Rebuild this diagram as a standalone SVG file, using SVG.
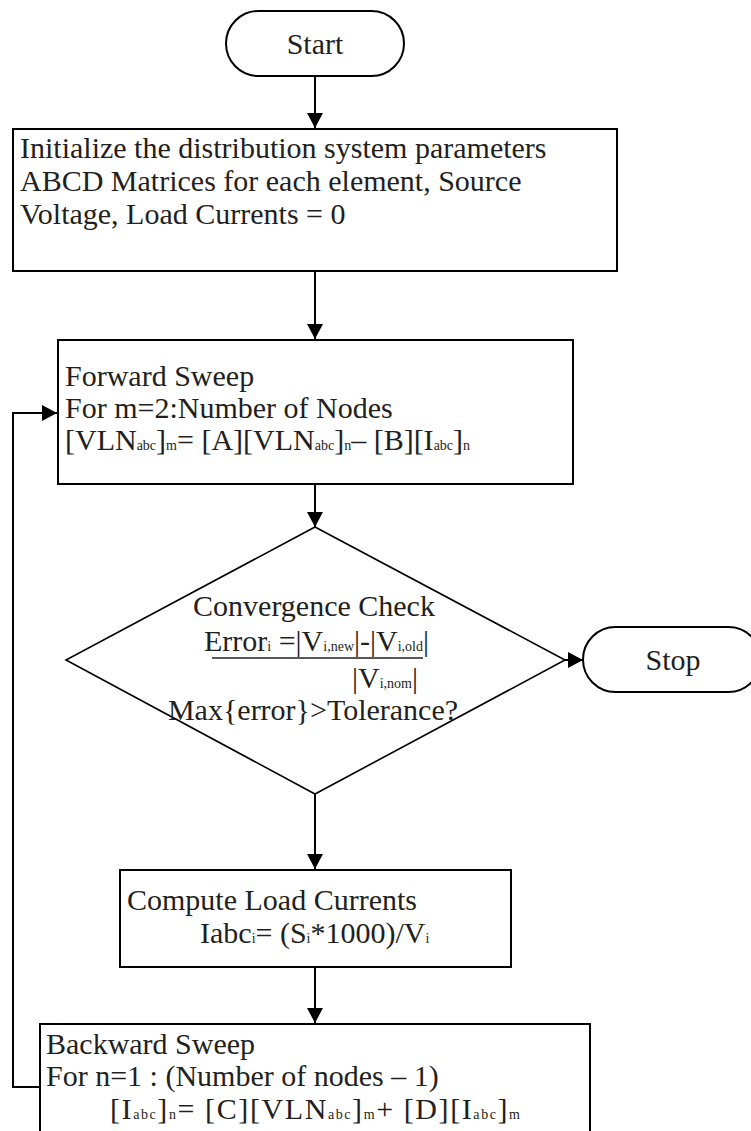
<svg xmlns="http://www.w3.org/2000/svg" width="751" height="1131" viewBox="0 0 751 1131">
<style>
.shape{fill:#fff;stroke:#000;stroke-width:2}
.dia{fill:#fff;stroke:#000;stroke-width:1.6}
.t{font-family:"Liberation Serif","Times New Roman",serif;font-size:30px;fill:#231f20}
.s{font-size:14px}
.c{text-anchor:middle}
.conn{fill:none;stroke:#000;stroke-width:2}
</style>
<defs>
<marker id="ah" markerUnits="userSpaceOnUse" markerWidth="16" markerHeight="16" refX="15" refY="8" orient="auto">
<path d="M0,0 L15,8 L0,16 z" fill="#000"/>
</marker>
</defs>
<rect width="751" height="1131" fill="#fff"/>
<g id="connectors">
<line class="conn" x1="315" y1="76" x2="315" y2="128" marker-end="url(#ah)"/>
<line class="conn" x1="315" y1="271" x2="315" y2="339" marker-end="url(#ah)"/>
<line class="conn" x1="315" y1="484" x2="315" y2="527" marker-end="url(#ah)"/>
<line class="conn" x1="565" y1="660" x2="583" y2="660" marker-end="url(#ah)"/>
<line class="conn" x1="315" y1="794" x2="315" y2="869" marker-end="url(#ah)"/>
<line class="conn" x1="315" y1="967" x2="315" y2="1023" marker-end="url(#ah)"/>
<path class="conn" d="M40,1087 H13 V413 H57" marker-end="url(#ah)"/>
</g>
<g id="start">
<rect class="shape" x="226" y="11" width="178" height="65" rx="32.5"/>
<text class="t c" x="315" y="54">Start</text>
</g>
<g id="init">
<rect class="shape" x="13" y="129" width="604" height="142"/>
<text class="t" x="20" y="158">Initialize the distribution system parameters</text>
<text class="t" x="20" y="191">ABCD Matrices for each element, Source</text>
<text class="t" x="20" y="224">Voltage, Load Currents = 0</text>
</g>
<g id="forward">
<rect class="shape" x="58" y="340" width="515" height="144"/>
<text class="t" x="65" y="386">Forward Sweep</text>
<text class="t" x="65" y="418">For m=2:Number of Nodes</text>
<text class="t" x="65" y="450">[VLN<tspan class="s">abc</tspan>]<tspan class="s">m</tspan>= [A][VLN<tspan class="s">abc</tspan>]<tspan class="s">n</tspan>– [B][I<tspan class="s">abc</tspan>]<tspan class="s">n</tspan></text>
</g>
<g id="convergence">
<polygon class="dia" points="315,527 565,660 315,794 66,660"/>
<text class="t c" x="314" y="616">Convergence Check</text>
<text class="t" x="204" y="651">Error<tspan class="s">i</tspan> =|V<tspan class="s">i,new</tspan>|-|V<tspan class="s">i,old</tspan>|</text>
<line x1="212" y1="658" x2="423" y2="658" stroke="#231f20" stroke-width="1.5"/>
<text class="t" x="352" y="688">|V<tspan class="s">i,nom</tspan>|</text>
<text class="t c" x="313" y="720">Max{error}&gt;Tolerance?</text>
</g>
<g id="stop">
<rect class="shape" x="583" y="627" width="178" height="65" rx="32.5"/>
<text class="t c" x="673" y="670">Stop</text>
</g>
<g id="compute">
<rect class="shape" x="120" y="870" width="391" height="97"/>
<text class="t" x="127" y="910">Compute Load Currents</text>
<text class="t" x="200" y="943">Iabc<tspan class="s">i</tspan>= (S<tspan class="s">i</tspan>*1000)/V<tspan class="s">i</tspan></text>
</g>
<g id="backward">
<rect class="shape" x="40" y="1024" width="550" height="130"/>
<text class="t" x="46" y="1054">Backward Sweep</text>
<text class="t" x="46" y="1086">For n=1 : (Number of nodes – 1)</text>
<text class="t" x="110" y="1119" textLength="410" lengthAdjust="spacing">[I<tspan class="s">abc</tspan>]<tspan class="s">n</tspan>= [C][VLN<tspan class="s">abc</tspan>]<tspan class="s">m</tspan>+ [D][I<tspan class="s">abc</tspan>]<tspan class="s">m</tspan></text>
</g>
</svg>
